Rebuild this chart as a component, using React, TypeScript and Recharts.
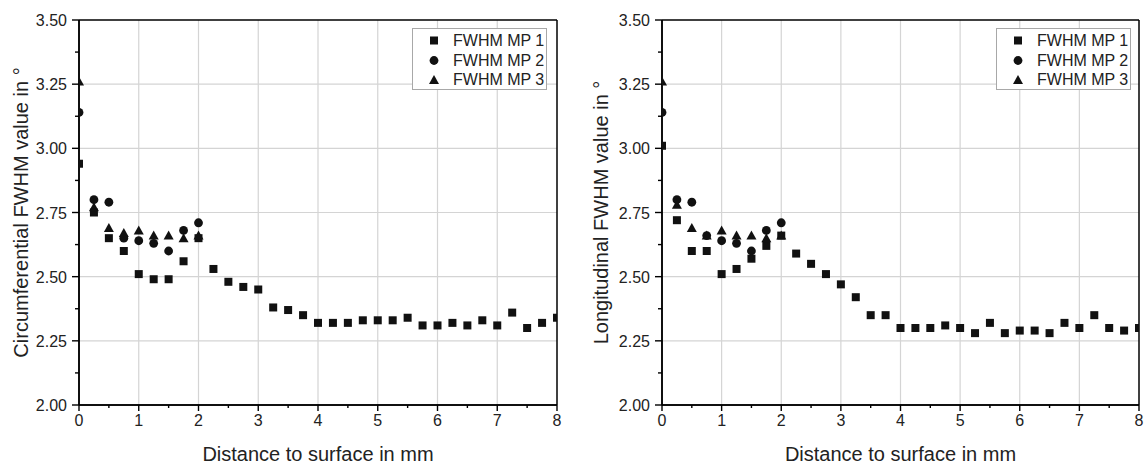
import { ScatterChart, Scatter, XAxis, YAxis, ReferenceLine, Legend } from "recharts";

// x positions (distance to surface in mm)
const depthFull = [
  0, 0.25, 0.5, 0.75, 1, 1.25, 1.5, 1.75, 2, 2.25, 2.5, 2.75, 3, 3.25, 3.5, 3.75,
  4, 4.25, 4.5, 4.75, 5, 5.25, 5.5, 5.75, 6, 6.25, 6.5, 6.75, 7, 7.25, 7.5, 7.75, 8,
];
const depthShort = [0, 0.25, 0.5, 0.75, 1, 1.25, 1.5, 1.75, 2];

// circumferential FWHM values
const circMP1 = [
  2.94, 2.75, 2.65, 2.6, 2.51, 2.49, 2.49, 2.56, 2.65, 2.53, 2.48, 2.46, 2.45, 2.38, 2.37, 2.35,
  2.32, 2.32, 2.32, 2.33, 2.33, 2.33, 2.34, 2.31, 2.31, 2.32, 2.31, 2.33, 2.31, 2.36, 2.3, 2.32, 2.34,
];
const circMP2 = [3.14, 2.8, 2.79, 2.65, 2.64, 2.63, 2.6, 2.68, 2.71];
const circMP3 = [3.26, 2.77, 2.69, 2.67, 2.68, 2.66, 2.66, 2.65, 2.66];

// longitudinal FWHM values
const longMP1 = [
  3.01, 2.72, 2.6, 2.6, 2.51, 2.53, 2.57, 2.62, 2.66, 2.59, 2.55, 2.51, 2.47, 2.42, 2.35, 2.35,
  2.3, 2.3, 2.3, 2.31, 2.3, 2.28, 2.32, 2.28, 2.29, 2.29, 2.28, 2.32, 2.3, 2.35, 2.3, 2.29, 2.3,
];
const longMP2 = [3.14, 2.8, 2.79, 2.66, 2.64, 2.63, 2.6, 2.68, 2.71];
const longMP3 = [3.26, 2.78, 2.69, 2.66, 2.68, 2.66, 2.66, 2.65, 2.66];

// axis ticks
const xMajor = [0, 1, 2, 3, 4, 5, 6, 7, 8];
const xAll = [0, 0.5, 1, 1.5, 2, 2.5, 3, 3.5, 4, 4.5, 5, 5.5, 6, 6.5, 7, 7.5, 8];
const yMajor = [2, 2.25, 2.5, 2.75, 3, 3.25, 3.5];
const yAll = [2, 2.125, 2.25, 2.375, 2.5, 2.625, 2.75, 2.875, 3, 3.125, 3.25, 3.375, 3.5];

const seriesNames = ["FWHM MP 1", "FWHM MP 2", "FWHM MP 3"];

const FONT = "'Liberation Sans', Arial, sans-serif";
const TEXT = "#222";
const INK = "#000";
const GRID = "#d4d4d4";

const toPoints = (xs: number[], ys: number[]) => xs.map((x, i) => ({ x, y: ys[i] }));

const isMajor = (v: number, list: number[]) => list.some((m) => Math.abs(m - v) < 1e-9);

// --- marker shapes ---
const Square = ({ cx, cy }: any) => <rect x={cx - 4} y={cy - 4} width={8} height={8} fill="#111" />;
const Dot = ({ cx, cy }: any) => <circle cx={cx} cy={cy} r={4.4} fill="#111" />;
const Tri = ({ cx, cy }: any) => (
  <polygon points={`${cx},${cy - 5} ${cx + 5},${cy + 4} ${cx - 5},${cy + 4}`} fill="#111" />
);

// --- tick renderers (major + minor marks, labels on majors only) ---
const BottomTick = ({ x, y, payload }: any) => {
  const major = isMajor(payload.value, xMajor);
  return (
    <g>
      <line x1={x} x2={x} y1={y} y2={y + (major ? 6 : 3)} stroke={INK} strokeWidth={1.4} />
      {major && (
        <text x={x} y={y + 21} textAnchor="middle" fontSize={16} fontFamily={FONT} fill={TEXT}>
          {payload.value}
        </text>
      )}
    </g>
  );
};

const TopTick = ({ x, y, payload }: any) => {
  const major = isMajor(payload.value, xMajor);
  return <line x1={x} x2={x} y1={y} y2={y + (major ? 5 : 3)} stroke={INK} strokeWidth={1.4} />;
};

const LeftTick = ({ x, y, payload }: any) => {
  const major = isMajor(payload.value, yMajor);
  return (
    <g>
      <line x1={x - (major ? 7 : 4)} x2={x} y1={y} y2={y} stroke={INK} strokeWidth={1.4} />
      {major && (
        <text x={x - 12} y={y + 6} textAnchor="end" fontSize={16} fontFamily={FONT} fill={TEXT}>
          {Number(payload.value).toFixed(2)}
        </text>
      )}
    </g>
  );
};

const RightTick = ({ x, y, payload }: any) => {
  const major = isMajor(payload.value, yMajor);
  return <line x1={x - (major ? 7 : 4)} x2={x} y1={y} y2={y} stroke={INK} strokeWidth={1.4} />;
};

// --- legend ---
const LegendBox = () => (
  <div
    style={{
      border: "1px solid #a8a8a8",
      background: "#fff",
      boxSizing: "border-box",
      width: "100%",
      height: "100%",
      paddingTop: 2,
      fontFamily: FONT,
      fontSize: 16,
      color: TEXT,
    }}>
    {seriesNames.map((name, i) => (
      <div key={name} style={{ display: "flex", alignItems: "center", height: 19.5 }}>
        <svg width={40} height={19} style={{ flexShrink: 0 }}>
          {i === 0 && <Square cx={21} cy={9.5} />}
          {i === 1 && <Dot cx={21} cy={9.5} />}
          {i === 2 && <Tri cx={21} cy={10} />}
        </svg>
        <span style={{ lineHeight: "19px" }}>{name}</span>
      </div>
    ))}
  </div>
);

type PanelProps = {
  title: string;
  mp1: number[];
  mp2: number[];
  mp3: number[];
  width: number;
  yAxisWidth: number;
  rightMargin: number;
  legendLeft: number;
};

function Panel({ title, mp1, mp2, mp3, width, yAxisWidth, rightMargin, legendLeft }: PanelProps) {
  return (
    <ScatterChart
      width={width}
      height={465}
      margin={{ top: 20, right: rightMargin, bottom: 0, left: 0 }}>
      {xMajor.slice(1, -1).map((v) => (
        <ReferenceLine key={`vx-${v}`} x={v} xAxisId="b" yAxisId="l" stroke={GRID} strokeWidth={1.2} />
      ))}
      {yMajor.slice(1, -1).map((v) => (
        <ReferenceLine key={`hy-${v}`} y={v} xAxisId="b" yAxisId="l" stroke={GRID} strokeWidth={1.2} />
      ))}
      <XAxis
        xAxisId="b"
        type="number"
        dataKey="x"
        domain={[0, 8]}
        ticks={xAll}
        interval={0}
        allowDataOverflow
        height={60}
        tickSize={0}
        tickMargin={0}
        tickLine={false}
        tick={<BottomTick />}
        axisLine={{ stroke: INK, strokeWidth: 1.5 }}
        label={{
          content: ({ viewBox }: any) => (
            <text
              x={viewBox.x + viewBox.width / 2}
              y={viewBox.y + 56}
              textAnchor="middle"
              fontSize={20}
              fontFamily={FONT}
              fill={TEXT}>
              Distance to surface in mm
            </text>
          ),
        }}
      />
      <XAxis
        xAxisId="t"
        orientation="top"
        type="number"
        dataKey="x"
        domain={[0, 8]}
        ticks={xAll}
        interval={0}
        allowDataOverflow
        height={0}
        tickSize={0}
        tickMargin={0}
        tickLine={false}
        tick={<TopTick />}
        axisLine={{ stroke: INK, strokeWidth: 1.5 }}
      />
      <YAxis
        yAxisId="l"
        type="number"
        dataKey="y"
        domain={[2, 3.5]}
        ticks={yAll}
        interval={0}
        allowDataOverflow
        width={yAxisWidth}
        tickSize={0}
        tickMargin={0}
        tickLine={false}
        tick={<LeftTick />}
        axisLine={{ stroke: INK, strokeWidth: 1.5 }}
        label={{
          content: ({ viewBox }: any) => {
            const cx = 21;
            const cy = viewBox.y + viewBox.height / 2;
            return (
              <text
                x={cx}
                y={cy}
                transform={`rotate(-90 ${cx} ${cy})`}
                textAnchor="middle"
                dominantBaseline="central"
                fontSize={20}
                fontFamily={FONT}
                fill={TEXT}>
                {title}
              </text>
            );
          },
        }}
      />
      <YAxis
        yAxisId="r"
        orientation="right"
        type="number"
        dataKey="y"
        domain={[2, 3.5]}
        ticks={yAll}
        interval={0}
        allowDataOverflow
        width={0}
        tickSize={0}
        tickMargin={0}
        tickLine={false}
        tick={<RightTick />}
        axisLine={{ stroke: INK, strokeWidth: 1.5 }}
      />
      <Legend
        layout="vertical"
        align="center"
        verticalAlign="middle"
        content={<LegendBox />}
        wrapperStyle={{ left: legendLeft, top: 28, width: 135, height: 62 }}
      />
      <Scatter
        name={seriesNames[0]}
        data={toPoints(depthFull, mp1)}
        xAxisId="b"
        yAxisId="l"
        fill="#111"
        shape={<Square />}
        isAnimationActive={false}
      />
      {/* MP 2 / MP 3 sit on the mirrored top/right axes (same 0-8 / 2-3.5 scales) */}
      <Scatter
        name={seriesNames[1]}
        data={toPoints(depthShort, mp2)}
        xAxisId="t"
        yAxisId="r"
        fill="#111"
        shape={<Dot />}
        isAnimationActive={false}
      />
      <Scatter
        name={seriesNames[2]}
        data={toPoints(depthShort, mp3)}
        xAxisId="t"
        yAxisId="r"
        fill="#111"
        shape={<Tri />}
        isAnimationActive={false}
      />
      {/* plot frame */}
      <ReferenceLine x={0} xAxisId="b" yAxisId="l" stroke={INK} strokeWidth={1.5} />
      <ReferenceLine x={8} xAxisId="b" yAxisId="l" stroke={INK} strokeWidth={1.5} />
      <ReferenceLine y={2} xAxisId="b" yAxisId="l" stroke={INK} strokeWidth={1.5} />
      <ReferenceLine y={3.5} xAxisId="b" yAxisId="l" stroke={INK} strokeWidth={1.5} />
    </ScatterChart>
  );
}

export default function App() {
  return (
    <div
      style={{
        position: "absolute",
        left: 0,
        top: 0,
        width: 1144,
        height: 465,
        background: "#fff",
        overflow: "hidden",
      }}>
      <div style={{ position: "absolute", left: 0, top: 0 }}>
        <Panel
          title="Circumferential FWHM value in °"
          mp1={circMP1}
          mp2={circMP2}
          mp3={circMP3}
          width={570}
          yAxisWidth={79}
          rightMargin={13}
          legendLeft={412}
        />
      </div>
      <div style={{ position: "absolute", left: 580, top: 0 }}>
        <Panel
          title="Longitudinal FWHM value in °"
          mp1={longMP1}
          mp2={longMP2}
          mp3={longMP3}
          width={564}
          yAxisWidth={82}
          rightMargin={5}
          legendLeft={416}
        />
      </div>
    </div>
  );
}
